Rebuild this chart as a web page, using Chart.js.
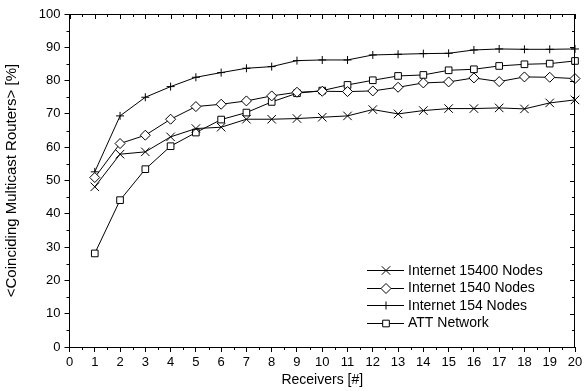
<!DOCTYPE html>
<html>
<head>
<meta charset="utf-8">
<script src="https://cdn.jsdelivr.net/npm/chart.js@4.4.1/dist/chart.umd.min.js"></script>
<style>
    html, body { margin: 0; padding: 0; background: #fff; }
    #wrap { width: 588px; height: 391px; }
</style>
</head>
<body>
<div id="wrap"><canvas id="chartRouters"></canvas></div>
<script>
const receivers = [1, 2, 3, 4, 5, 6, 7, 8, 9, 10, 11, 12, 13, 14, 15, 16, 17, 18, 19, 20];

const internet15400 = [48.1, 57.9, 58.6, 63.1, 65.6, 66.0, 68.4, 68.4, 68.6, 69.0, 69.4, 71.3, 70.0, 71.0, 71.6, 71.6, 71.8, 71.5, 73.3, 74.2];
const internet1540 = [50.9, 61.1, 63.6, 68.4, 72.2, 72.9, 73.9, 75.4, 76.5, 76.8, 76.7, 76.9, 78.0, 79.3, 79.6, 80.8, 79.7, 81.1, 81.0, 80.6];
const internet154 = [52.6, 69.4, 75.0, 78.2, 81.0, 82.4, 83.7, 84.2, 86.0, 86.2, 86.2, 87.7, 87.9, 88.1, 88.2, 89.2, 89.5, 89.4, 89.4, 89.5];
const attNetwork = [28.1, 44.1, 53.4, 60.3, 64.4, 68.3, 70.4, 73.6, 76.2, 77.0, 78.7, 80.1, 81.4, 81.7, 83.1, 83.4, 84.4, 84.9, 85.1, 85.9];

const seriesLabels = ['Internet 15400 Nodes', 'Internet 1540 Nodes', 'Internet 154 Nodes', 'ATT Network'];

const fontFamily = '"Liberation Sans", Arial, sans-serif';

function toPoints(values) {
    return values.map(function (v, i) { return { x: receivers[i], y: v }; });
}

function lineSet(label, values, style, radius) {
    return {
        label: label,
        data: toPoints(values),
        borderColor: '#000',
        borderWidth: 1,
        tension: 0,
        fill: false,
        pointStyle: style,
        pointRadius: radius,
        pointHoverRadius: radius,
        pointBackgroundColor: '#fff',
        pointBorderColor: '#000',
        pointBorderWidth: 1,
        clip: false
    };
}

// minor ticks + mirrored top/right axes
const frameTicks = {
    id: 'frameTicks',
    afterDatasetsDraw: function (chart) {
        const ctx = chart.ctx;
        const a = chart.chartArea;
        const xs = chart.scales.x;
        const ys = chart.scales.y;
        ctx.save();
        ctx.strokeStyle = '#000';
        ctx.lineWidth = 1;
        ctx.beginPath();
        ctx.moveTo(a.left, a.top + 0.5);
        ctx.lineTo(a.right, a.top + 0.5);
        ctx.moveTo(a.right - 0.5, a.top);
        ctx.lineTo(a.right - 0.5, a.bottom);

        xs.ticks.forEach(function (t, i) {
            const px = Math.round(xs.getPixelForValue(t.value)) + 0.5;
            ctx.moveTo(px, a.top);
            ctx.lineTo(px, a.top + 5);
            if (i < xs.ticks.length - 1) {
                const mx = Math.round(xs.getPixelForValue(t.value + 0.5)) + 0.5;
                ctx.moveTo(mx, a.top);
                ctx.lineTo(mx, a.top + 3);
                ctx.moveTo(mx, a.bottom);
                ctx.lineTo(mx, a.bottom + 3);
            }
        });
        ys.ticks.forEach(function (t, i) {
            const py = Math.round(ys.getPixelForValue(t.value)) + 0.5;
            ctx.moveTo(a.right, py);
            ctx.lineTo(a.right - 5, py);
            if (i < ys.ticks.length - 1) {
                const my = Math.round(ys.getPixelForValue(t.value + 5)) + 0.5;
                ctx.moveTo(a.right, my);
                ctx.lineTo(a.right - 3, my);
                ctx.moveTo(a.left, my);
                ctx.lineTo(a.left - 3, my);
            }
        });
        ctx.stroke();
        ctx.restore();
    }
};

// legend drawn inside the plot, lower right
const innerLegend = {
    id: 'innerLegend',
    afterDraw: function (chart) {
        const ctx = chart.ctx;
        const a = chart.chartArea;
        const x0 = a.right - 208;
        const rowH = 17.5;
        const y0 = a.bottom - 77;
        ctx.save();
        ctx.font = '14px ' + fontFamily;
        ctx.textBaseline = 'middle';
        ctx.textAlign = 'left';
        chart.data.datasets.forEach(function (ds, i) {
            const y = y0 + i * rowH;
            ctx.strokeStyle = '#000';
            ctx.lineWidth = 1;
            ctx.beginPath();
            ctx.moveTo(x0, Math.round(y) + 0.5);
            ctx.lineTo(x0 + 37, Math.round(y) + 0.5);
            ctx.stroke();
            ctx.fillStyle = '#fff';
            ctx.strokeStyle = '#000';
            Chart.helpers.drawPoint(ctx, {
                pointStyle: ds.pointStyle,
                radius: ds.pointRadius,
                rotation: 0,
                borderWidth: 1
            }, x0 + 19, Math.round(y) + 0.5);
            ctx.fillStyle = '#000';
            ctx.fillText(ds.label, x0 + 41, y + 1);
        });
        ctx.restore();
    }
};

const ctx = document.getElementById('chartRouters').getContext('2d');

new Chart(ctx, {
    type: 'line',
    data: {
        datasets: [
            lineSet(seriesLabels[0], internet15400, 'crossRot', 6),
            lineSet(seriesLabels[1], internet1540, 'rectRot', 5),
            lineSet(seriesLabels[2], internet154, 'cross', 4),
            lineSet(seriesLabels[3], attNetwork, 'rect', 4.7)
        ]
    },
    options: {
        responsive: true,
        maintainAspectRatio: false,
        animation: false,
        events: [],
        layout: { padding: { top: 14, right: 13, left: 0, bottom: 0 } },
        plugins: {
            legend: { display: false },
            tooltip: { enabled: false }
        },
        scales: {
            x: {
                type: 'linear',
                min: 0,
                max: 20,
                afterFit: function (scale) { scale.height = 44; },
                ticks: {
                    stepSize: 1,
                    autoSkip: false,
                    maxRotation: 0,
                    padding: 3,
                    color: '#000',
                    font: { family: fontFamily, size: 13 }
                },
                grid: {
                    display: true,
                    drawOnChartArea: false,
                    drawTicks: true,
                    tickLength: 5,
                    color: '#000'
                },
                border: { display: true, color: '#000', width: 1 },
                title: {
                    display: true,
                    text: 'Receivers [#]',
                    color: '#000',
                    padding: { top: 0, bottom: 2 },
                    font: { family: fontFamily, size: 14 }
                }
            },
            y: {
                min: 0,
                max: 100,
                afterFit: function (scale) { scale.width = 69.5; },
                ticks: {
                    stepSize: 10,
                    padding: 4,
                    color: '#000',
                    font: { family: fontFamily, size: 13 }
                },
                grid: {
                    display: true,
                    drawOnChartArea: false,
                    drawTicks: true,
                    tickLength: 5,
                    color: '#000'
                },
                border: { display: true, color: '#000', width: 1 },
                title: {
                    display: true,
                    text: '<Coinciding Multicast Routers> [%]',
                    color: '#000',
                    padding: { top: 3, bottom: 0 },
                    font: { family: fontFamily, size: 15 }
                }
            }
        }
    },
    plugins: [frameTicks, innerLegend]
});
</script>
</body>
</html>
